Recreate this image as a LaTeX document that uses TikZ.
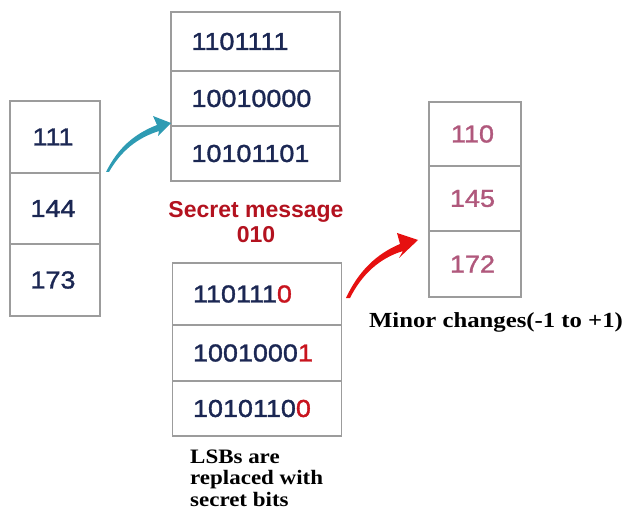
\documentclass[tikz,border=0pt]{standalone}
\usepackage{fontspec}
\setmainfont{Liberation Serif}
\newfontfamily\arialf{Liberation Sans}
\newfontfamily\digitf[FakeBold=1.4,FakeStretch=1.1]{Liberation Sans}
\definecolor{navy}{HTML}{1B2753}
\definecolor{boxgray}{HTML}{9C9C9C}
\definecolor{secred}{HTML}{B3121F}
\definecolor{lsbred}{HTML}{C8141E}
\definecolor{pinktxt}{HTML}{B0587C}
\definecolor{tealc}{HTML}{2E9BB3}
\definecolor{arrred}{HTML}{E61010}
\begin{document}
\begin{tikzpicture}[x=1pt,y=-1pt,
  cell/.style={draw=boxgray, line width=1.4pt, inner sep=0pt,
    font=\digitf\fontsize{24.5}{28}\selectfont, text=navy},
  lcell/.style={cell, minimum width=90pt},
  mcell/.style={cell, minimum width=169pt, text width=128pt, align=left},
  rcell/.style={cell, minimum width=92pt, text=pinktxt},
  serifbold/.style={inner sep=0pt, text=black}]
\useasboundingbox (0,0) rectangle (624,513);
% left box
\node[lcell, minimum height=72pt] (l1) at (55,137) {\hspace*{-4pt}111};
\node[lcell, minimum height=71pt] (l2) at (55,208.5) {\hspace*{-4pt}144};
\node[lcell, minimum height=72pt] (l3) at (55,280) {\hspace*{-4pt}173};
% top middle box
\node[mcell, minimum height=59pt] (t1) at (255.5,41.5) {1101111};
\node[mcell, minimum height=55pt] (t2) at (255.5,98.5) {10010000};
\node[mcell, minimum height=55pt] (t3) at (255.5,153.5) {10101101};
% secret message
\node[inner sep=0pt, align=center, text=secred,
  font=\arialf\bfseries\fontsize{23}{25}\selectfont] (sm) at (256,222) {Secret message\\010};
% bottom middle box
\node[mcell, minimum height=62pt] (b1) at (257,294) {110111\textcolor{lsbred}{0}};
\node[mcell, minimum height=56pt] (b2) at (257,353) {1001000\textcolor{lsbred}{1}};
\node[mcell, minimum height=55pt] (b3) at (257,408.5) {1010110\textcolor{lsbred}{0}};
% right box
\node[rcell, minimum height=64pt] (r1) at (475,134) {\hspace*{-5pt}110};
\node[rcell, minimum height=65pt] (r2) at (475,198.5) {\hspace*{-5pt}145};
\node[rcell, minimum height=66pt] (r3) at (475,264) {\hspace*{-5pt}172};
% labels
\node[serifbold, anchor=base] (mc) at (496,327.5)
  {\scalebox{1.15}[1]{\bfseries\fontsize{21.5}{24}\selectfont Minor changes(-1 to +1)}};
\node[serifbold, anchor=base west] (lsb) at (190,463)
  {\scalebox{1.12}[1]{\bfseries\fontsize{20.5}{21.5}\selectfont
   \vtop{\hbox{LSBs are}\hbox{replaced with}\hbox{secret bits}}}};
% arrows (tapered)
\coordinate (ta) at (106,172);
\coordinate (tt) at (171,123);
\fill[tealc] (ta) .. controls (118,148) and (134,134) .. (157,125)
  -- (153,116) -- (tt) -- (158,136) -- (159,131)
  .. controls (137,138) and (121,151) .. (109,172) -- cycle;
\coordinate (ra) at (346,298);
\coordinate (rt) at (418,240);
\fill[arrred] (ra) .. controls (358,272) and (376,254) .. (400,244)
  -- (397,233) -- (rt) -- (399,258) -- (403,251)
  .. controls (380,258) and (362,274) .. (350,298) -- cycle;
\end{tikzpicture}
\end{document}
